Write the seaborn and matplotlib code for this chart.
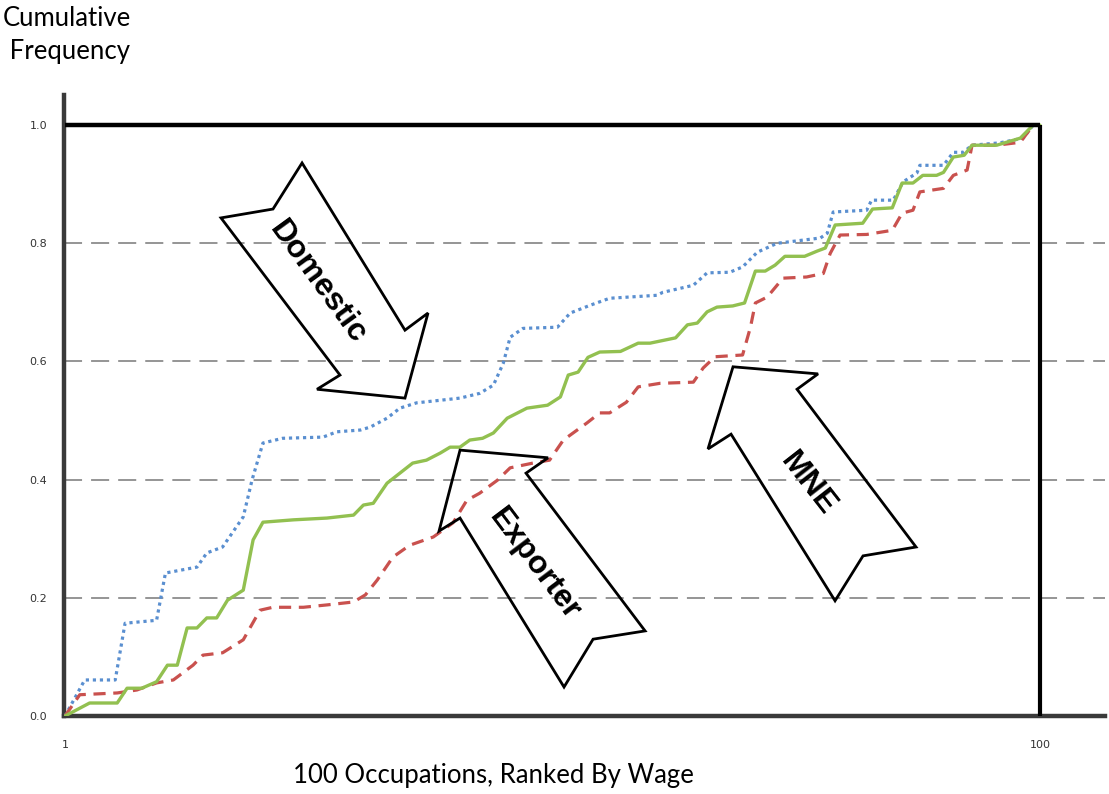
import matplotlib
matplotlib.use("Agg")
import matplotlib.pyplot as plt
from matplotlib.patches import Polygon
import numpy as np
import pandas as pd
import seaborn as sns

# Cumulative share of employment across 100 occupations ranked by wage
domestic_rank = [1, 3.0, 6.1, 7.1, 10.3, 11.2, 14.4, 15.4, 17.0, 19.1, 20.0, 21.1, 23.1, 27.2,
                 28.6, 31, 32, 33.7, 35, 36.7, 41.1, 43.1, 44.5, 45.5, 46.2, 47.5, 51, 52.3,
                 54.3, 56.3, 61.1, 61.7, 64.8, 66.2, 68.5, 69.8, 71.3, 73.3, 77.7, 78.4, 79,
                 82.4, 82.9, 85.1, 86.1, 87.5, 87.8, 90.2, 91.2, 92.2, 93.1, 95.9, 98.3, 99.3, 100]
domestic_cum = [0.0, 0.061, 0.061, 0.157, 0.162, 0.242, 0.252, 0.276, 0.286, 0.337, 0.40,
                0.462, 0.470, 0.472, 0.481, 0.484, 0.489, 0.504, 0.521, 0.530, 0.538, 0.546,
                0.560, 0.597, 0.641, 0.656, 0.658, 0.682, 0.695, 0.707, 0.712, 0.717, 0.729,
                0.750, 0.751, 0.760, 0.785, 0.800, 0.809, 0.817, 0.853, 0.856, 0.873, 0.873,
                0.904, 0.919, 0.932, 0.932, 0.954, 0.954, 0.966, 0.970, 0.978, 1.0, 1.0]

exporter_rank = [1, 3.5, 6.3, 7.3, 8.8, 10.3, 11.4, 12.4, 13.4, 14.4, 15.4, 16.4, 17.5, 19.1,
                 20.1, 21.1, 24.2, 27.6, 30.3, 31.3, 32.3, 33.7, 35, 36.3, 37.7, 39.1, 40.1,
                 41.1, 42.1, 43.4, 44.5, 45.9, 47.9, 50, 51.3, 52.1, 53.1, 54.1, 55.3, 57.4,
                 59.2, 60.4, 63, 64.2, 65.2, 66.2, 67.2, 68.8, 70, 71.1, 72.1, 73.1, 74.1,
                 76.1, 77.4, 78.2, 79.2, 82, 83, 85, 86, 87.1, 88.1, 89.5, 90.2, 91.2, 92.3,
                 93.1, 95.6, 96.6, 98, 99.3, 100]
exporter_cum = [0.0, 0.022, 0.022, 0.047, 0.047, 0.058, 0.086, 0.086, 0.149, 0.149, 0.166,
                0.166, 0.196, 0.213, 0.298, 0.328, 0.332, 0.335, 0.340, 0.357, 0.360, 0.394,
                0.411, 0.428, 0.433, 0.445, 0.455, 0.455, 0.467, 0.470, 0.479, 0.504, 0.521,
                0.526, 0.540, 0.577, 0.582, 0.607, 0.616, 0.617, 0.631, 0.631, 0.640, 0.662,
                0.665, 0.684, 0.692, 0.694, 0.699, 0.753, 0.753, 0.763, 0.778, 0.778, 0.787,
                0.792, 0.831, 0.834, 0.858, 0.860, 0.902, 0.902, 0.915, 0.915, 0.920, 0.946,
                0.949, 0.966, 0.966, 0.971, 0.978, 1.0, 1.0]

mne_rank = [1, 2.5, 6.3, 8.3, 10.3, 12, 14, 15, 17, 19.1, 20.8, 22.1, 25.2, 27.6, 30.3, 31.5,
            32.7, 34.3, 36, 38.4, 40.4, 41.8, 43.1, 44.9, 46.2, 48.5, 50.2, 51.6, 54, 55.3,
            56.3, 58, 59.2, 61.4, 64.8, 65.8, 67, 69.8, 70.6, 71.1, 72.3, 73.9, 76.3, 78,
            78.7, 79.7, 82.4, 85, 86, 87.1, 87.8, 90.2, 91.2, 92.6, 93.1, 95.6, 98, 99.3, 100]
mne_cum = [0.0, 0.036, 0.039, 0.044, 0.056, 0.061, 0.086, 0.103, 0.107, 0.129, 0.179, 0.184,
           0.184, 0.188, 0.193, 0.205, 0.230, 0.269, 0.289, 0.303, 0.327, 0.365, 0.377, 0.399,
           0.420, 0.428, 0.433, 0.467, 0.496, 0.513, 0.513, 0.531, 0.557, 0.563, 0.565, 0.589,
           0.608, 0.611, 0.658, 0.699, 0.709, 0.741, 0.743, 0.749, 0.783, 0.814, 0.815, 0.822,
           0.851, 0.856, 0.887, 0.893, 0.915, 0.924, 0.966, 0.966, 0.971, 1.0, 1.0]

y_ticks = [0.0, 0.2, 0.4, 0.6, 0.8, 1.0]
x_ticks = [1, 100]

df = pd.concat([
    pd.DataFrame({"rank": domestic_rank, "cum": domestic_cum, "firm": "Domestic"}),
    pd.DataFrame({"rank": mne_rank, "cum": mne_cum, "firm": "MNE"}),
    pd.DataFrame({"rank": exporter_rank, "cum": exporter_cum, "firm": "Exporter"}),
], ignore_index=True)

sns.set_theme(style="white")
plt.rcParams["font.family"] = ["DejaVu Sans"]

fig = plt.figure(figsize=(11.09, 7.94), dpi=100)
ax = fig.add_axes([64 / 1109, 1 - 716 / 794, (1105 - 64) / 1109, (716 - 95) / 794])

ax.set_xlim(0.898, 106.6)
ax.set_ylim(0.0, 1.051)

# dashed reference lines
for yv in y_ticks[1:-1]:
    ax.axhline(yv, color="#8c8c8c", lw=1.3, ls=(0, (10, 5)), zorder=1)

styles = {
    "Domestic": dict(color="#5a8fd0", lw=2.3, ls=(0, (1, 1.2))),
    "MNE": dict(color="#c9514e", lw=2.3, ls=(0, (3.8, 2.4))),
    "Exporter": dict(color="#92c050", lw=2.4, ls="-"),
}
for firm, st in styles.items():
    sub = df[df["firm"] == firm]
    sns.lineplot(data=sub, x="rank", y="cum", ax=ax, sort=False, estimator=None,
                 color=st["color"], lw=st["lw"], linestyle=st["ls"], zorder=3)

# frame around the unit square
ax.plot([1, 100], [1, 1], color="black", lw=3.2, solid_capstyle="butt", zorder=4)
ax.plot([100, 100], [0, 1], color="black", lw=3.0, solid_capstyle="butt", zorder=4)

# annotation arrows
arrows = {
    "Domestic": [(25.07, 0.936), (35.52, 0.653), (37.86, 0.682), (35.52, 0.538),
                 (26.59, 0.553), (28.92, 0.577), (16.84, 0.843), (22.12, 0.858)],
    "Exporter": [(41.11, 0.450), (50.05, 0.437), (47.81, 0.411), (59.90, 0.144),
                 (54.62, 0.130), (51.67, 0.049), (41.11, 0.335), (38.98, 0.313)],
    "MNE": [(68.83, 0.591), (77.46, 0.579), (75.33, 0.553), (87.41, 0.286),
            (82.03, 0.271), (79.19, 0.195), (68.63, 0.477), (66.29, 0.452)],
}
labels = {
    "Domestic": (26.7, 0.734, -54),
    "Exporter": (48.7, 0.256, -53),
    "MNE": (76.5, 0.393, -52),
}
for name, pts in arrows.items():
    ax.add_patch(Polygon(pts, closed=True, fill=False, edgecolor="black", lw=2.0,
                         joinstyle="miter", zorder=5))
    lx, ly, rot = labels[name]
    ax.text(lx, ly, name, rotation=rot, rotation_mode="anchor", ha="center", va="center",
            fontsize=23, fontweight="bold", family="Liberation Sans", color="black", zorder=6)

for side in ["top", "right"]:
    ax.spines[side].set_visible(False)
for side in ["left", "bottom"]:
    ax.spines[side].set_color("#3a3a3a")
    ax.spines[side].set_linewidth(3.2)

ax.set_yticks(y_ticks)
ax.set_yticklabels([f"{v:.1f}" for v in y_ticks])
ax.set_xticks(x_ticks)
ax.set_xticklabels([str(v) for v in x_ticks])
ax.tick_params(axis="y", length=0, pad=12, labelsize=8, labelcolor="#333333")
ax.tick_params(axis="x", length=0, pad=17, labelsize=8, labelcolor="#333333")
ax.set_xlabel("")
ax.set_ylabel("")
ax.grid(False)

fig.text(3 / 1109, 1 - 6 / 794, "Cumulative\n Frequency", ha="left", va="top",
         fontsize=18.5, family="Lato", linespacing=1.38, color="black")
fig.text(493 / 1109, 1 - 775 / 794, "100 Occupations, Ranked By Wage", ha="center",
         va="center", fontsize=18.5, family="Lato", color="black")

fig.savefig("out.png", dpi=100)
